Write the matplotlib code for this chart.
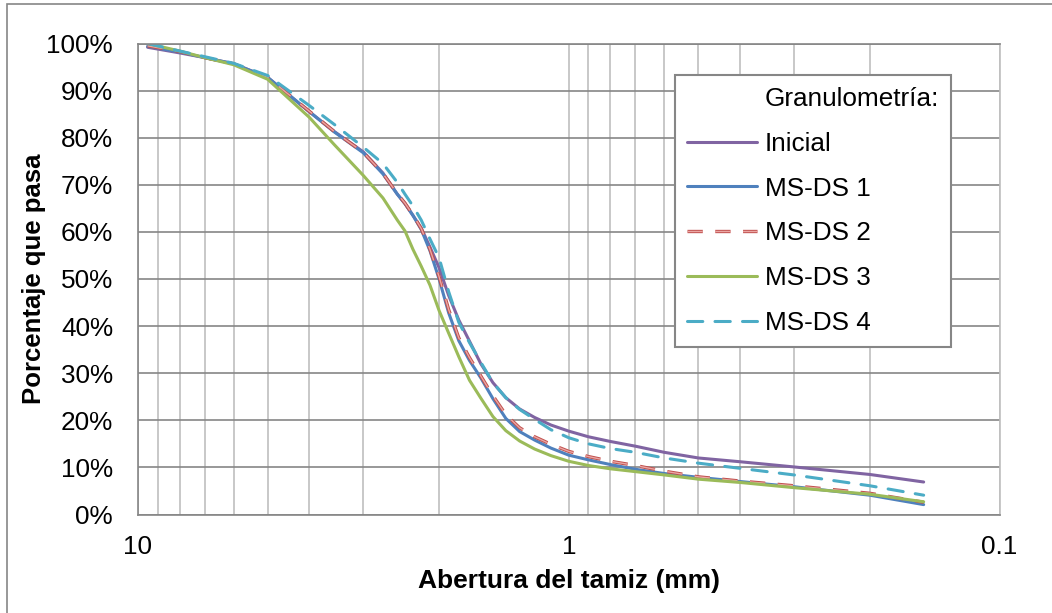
import matplotlib
matplotlib.use('Agg')
import matplotlib.pyplot as plt
from matplotlib.lines import Line2D
from matplotlib.ticker import FixedLocator, FuncFormatter, NullFormatter
import matplotlib.patheffects as pe

plt.rcParams['font.family'] = ['Liberation Sans', 'DejaVu Sans']

# abertura del tamiz (mm) y porcentaje que pasa
abertura = [9.5, 8, 7, 6, 5, 4, 3.5, 3, 2.7, 2.5, 2.4, 2.3, 2.2, 2.1, 2.0, 1.9, 1.8, 1.7,
            1.6, 1.5, 1.4, 1.3, 1.2, 1.1, 1.0, 0.9, 0.8, 0.7, 0.6, 0.5, 0.4, 0.3, 0.2, 0.15]

inicial = [99.2, 98.0, 97.0, 95.7, 92.8, 85.5, 81.3, 77.0, 72.5, 68.0, 66.0, 63.5, 60.8, 56.8,
           52.4, 46.5, 41.3, 36.8, 32.0, 28.0, 24.8, 22.4, 20.6, 19.0, 17.7, 16.5, 15.5, 14.5,
           13.2, 12.0, 11.2, 10.1, 8.5, 6.9]
msds1 = [99.4, 98.2, 97.0, 95.7, 92.8, 85.5, 81.2, 76.8, 72.3, 68.0, 66.0, 63.5, 60.5, 56.0,
         50.0, 42.8, 36.9, 32.7, 29.0, 24.6, 20.4, 17.6, 15.8, 14.1, 12.6, 11.6, 10.6, 9.6,
         8.7, 7.9, 7.0, 5.9, 4.1, 2.1]
msds2 = [99.5, 98.3, 97.0, 95.7, 92.8, 85.6, 81.3, 76.9, 72.4, 68.1, 66.1, 63.6, 60.7, 56.3,
         50.5, 43.5, 37.5, 33.3, 29.4, 25.2, 21.2, 18.4, 16.5, 14.9, 13.4, 12.3, 11.3, 10.4,
         9.2, 8.0, 7.1, 6.1, 4.5, 2.6]
msds3 = [100, 98.4, 97.0, 95.5, 92.4, 84.3, 78.5, 72.0, 67.2, 62.5, 60.2, 56.3, 52.7, 48.7,
         43.3, 38.5, 33.5, 28.5, 24.7, 20.8, 17.8, 15.6, 13.9, 12.5, 11.3, 10.4, 9.7, 9.1,
         8.4, 7.5, 6.8, 5.7, 4.3, 2.7]
msds4 = [100, 98.4, 97.2, 95.8, 93.2, 86.8, 82.8, 78.0, 74.5, 70.5, 68.0, 65.5, 62.5, 58.5,
         54.5, 47.3, 40.8, 36.5, 32.3, 28.0, 24.8, 22.3, 20.2, 18.0, 16.3, 15.0, 14.0, 13.2,
         12.0, 10.9, 9.8, 8.4, 6.1, 4.1]

fig = plt.figure(figsize=(10.52, 6.13), dpi=100)
ax = fig.add_axes([138 / 1052, 1 - 514.5 / 613, 861.5 / 1052, 471 / 613])

# marco exterior del grafico (solo se ve arriba e izquierda)
fig.patches.append(plt.Rectangle((7 / 1052, -0.1), 1.2, 1 - 4 / 613 + 0.1, transform=fig.transFigure,
                                 fill=False, edgecolor='#868686', linewidth=1.2))

lw = 2.2
ax.plot(abertura, inicial, color='#8064A2', lw=lw, label='Inicial', solid_capstyle='round',
        solid_joinstyle='round')
ax.plot(abertura, msds1, color='#4F81BD', lw=lw, label='MS-DS 1', solid_capstyle='round',
        solid_joinstyle='round')
ax.plot(abertura, msds2, color='#EBA6A4', lw=1.0, dashes=(11, 9), label='MS-DS 2',
        path_effects=[pe.Stroke(linewidth=2.4, foreground='#C0504D'), pe.Normal()])
ax.plot(abertura, msds3, color='#9BBB59', lw=lw, label='MS-DS 3', solid_capstyle='round',
        solid_joinstyle='round')
ax.plot(abertura, msds4, color='#4BACC6', lw=lw, dashes=(5, 4), label='MS-DS 4', dash_capstyle='round')

ax.set_xscale('log')
ax.set_xlim(10, 0.1)
ax.set_ylim(0, 100)

ax.xaxis.set_major_locator(FixedLocator([10, 1, 0.1]))
ax.xaxis.set_major_formatter(FuncFormatter(lambda v, p: '{:g}'.format(v)))
ax.xaxis.set_minor_locator(FixedLocator([9, 8, 7, 6, 5, 4, 3, 2, 0.9, 0.8, 0.7, 0.6, 0.5, 0.4, 0.3, 0.2]))
ax.xaxis.set_minor_formatter(NullFormatter())
ax.set_yticks(range(0, 101, 10))
ax.yaxis.set_major_formatter(FuncFormatter(lambda v, p: '{:.0f}%'.format(v)))

ax.tick_params(axis='both', which='both', length=0, labelsize=18.8)
ax.tick_params(axis='x', pad=15)
ax.tick_params(axis='y', pad=18)

ax.grid(True, axis='y', which='major', color='#868686', linewidth=1.2)
ax.grid(True, axis='x', which='both', color='#BFBFBF', linewidth=1.2)
ax.set_axisbelow(True)
for s in ['left', 'bottom', 'top']:
    ax.spines[s].set_color('#868686')
    ax.spines[s].set_linewidth(1.2)
ax.spines['right'].set_color('#BFBFBF')
ax.spines['right'].set_linewidth(1.2)

ax.set_xlabel('Abertura del tamiz (mm)', fontsize=19, fontweight='bold')
ax.set_ylabel('Porcentaje que pasa', fontsize=18.5, fontweight='bold')
ax.xaxis.set_label_coords(0.5, -0.116)
ax.yaxis.set_label_coords(-0.107, 0.5)

handles, labels = ax.get_legend_handles_labels()
titulo = Line2D([], [], color='none')
leg = ax.legend([titulo] + handles, ['Granulometría:'] + labels, loc='upper left',
                bbox_to_anchor=(675 / 1052, 1 - 75 / 613), bbox_transform=fig.transFigure,
                borderaxespad=0, fontsize=18.8, frameon=True, fancybox=False, framealpha=1,
                edgecolor='#868686', handlelength=2.7, handletextpad=0.3, labelspacing=0.8,
                borderpad=0.45)
leg.get_frame().set_linewidth(1.5)

fig.savefig('out.png', dpi=100)
